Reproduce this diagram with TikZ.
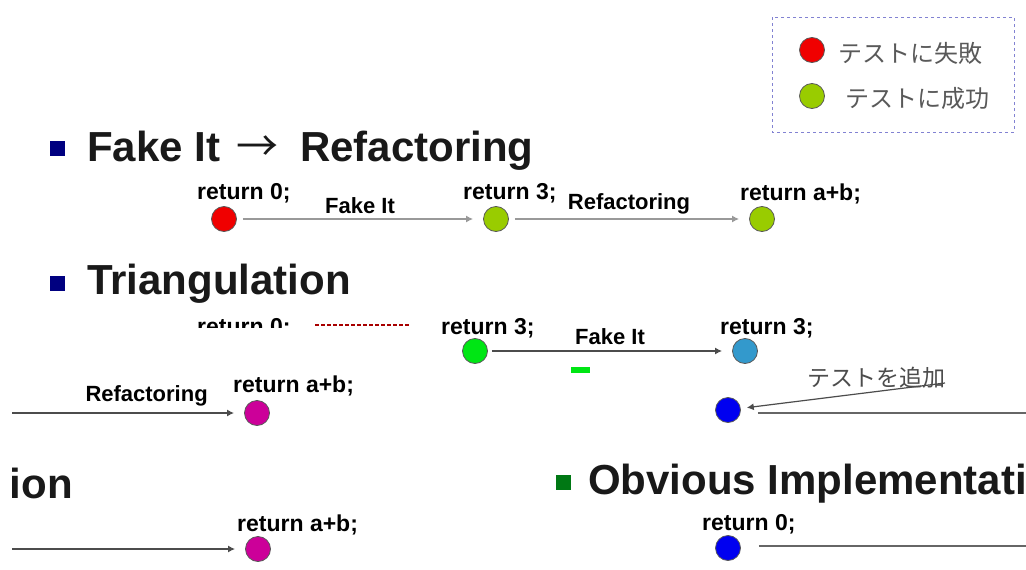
\documentclass[tikz,border=0pt]{standalone}
\usepackage{fontspec}
\setmainfont{Liberation Sans}
\newfontfamily\jpfont{Noto Sans CJK JP}
\usetikzlibrary{arrows.meta}

\definecolor{failred}{RGB}{240,0,0}
\definecolor{passgreen}{RGB}{153,204,0}
\definecolor{brightgreen}{RGB}{0,230,20}
\definecolor{tealblue}{RGB}{51,153,204}
\definecolor{deepblue}{RGB}{0,0,240}
\definecolor{plum}{RGB}{204,0,153}
\definecolor{navy}{RGB}{0,0,128}
\definecolor{leaf}{RGB}{0,120,20}
\definecolor{legendline}{RGB}{130,130,210}

\tikzset{
  dot/.style={circle, draw=black!65, line width=0.8pt, minimum size=25pt, inner sep=0pt},
  code/.style={font=\bfseries\fontsize{23}{23}\selectfont, inner sep=0pt, anchor=base west},
  heading/.style={font=\bfseries\fontsize{42}{42}\selectfont, text=black!90, inner sep=0pt, anchor=base west},
  bulletbox/.style={rectangle, minimum size=15pt, inner sep=0pt},
  flow/.style={draw=black!40, line width=2.5pt, shorten <=6pt, shorten >=10pt,
    -{Latex[length=7pt,width=7pt]}},
  darkflow/.style={draw=black!70, line width=2pt, shorten >=10pt,
    -{Latex[length=7pt,width=7pt]}},
  steplabel/.style={font=\bfseries\fontsize{22}{22}\selectfont, inner sep=1pt, above=3pt},
  legendtext/.style={font=\jpfont\fontsize{24}{24}\selectfont, text=black!65, anchor=west, inner sep=0pt},
}

\begin{document}
\begin{tikzpicture}[x=1pt, y=-1pt]
  \useasboundingbox[fill=white] (0,0) rectangle (1026,570);
  \begin{scope}
  \clip (12,0) rectangle (1026,570);

  % legend
  \draw[legendline, line width=1pt, dash pattern=on 3pt off 3pt] (772,17) rectangle (1014,132);
  \node[dot, fill=failred] (legfail) at (812,50) {};
  \node[dot, fill=passgreen] (legpass) at (812,96) {};
  \node[legendtext] at (838,53) {テストに失敗};
  \node[legendtext] at (845,98) {テストに成功};

  % Fake It -> Refactoring
  \node[bulletbox, fill=navy] (bulA) at (57,148) {};
  \node[heading] (headA) at (87,161) {Fake It\hspace{16pt}{\jpfont\mdseries →}\hspace{22pt}Refactoring};
  \node[dot, fill=failred] (fakeZero) at (224,219) {};
  \node[dot, fill=passgreen] (fakeThree) at (496,219) {};
  \node[dot, fill=passgreen] (fakeSum) at (762,219) {};
  \node[code] at (197,199) {return 0;};
  \node[code] at (463,199) {return 3;};
  \node[code] at (740,200) {return a+b;};
  \draw[flow] (fakeZero) -- (fakeThree) node[steplabel, midway] {Fake It};
  \draw[flow] (fakeThree) -- (fakeSum) node[steplabel, midway] {Refactoring};

  % Triangulation
  \node[bulletbox, fill=navy] (bulB) at (57,283) {};
  \node[heading] (headB) at (87,294) {Triangulation};
  \begin{scope}
    \clip (180,315) rectangle (300,327);
    \node[code] at (197,334) {return 0;};
  \end{scope}
  \draw[failred!70!black, line width=1.5pt, dash pattern=on 4pt off 2pt] (315,325) -- (410,325);
  \node[dot, fill=brightgreen] (triThree) at (475,351) {};
  \node[dot, fill=tealblue] (triThreeB) at (745,351) {};
  \node[code] at (441,334) {return 3;};
  \node[code] at (720,334) {return 3;};
  \draw[darkflow, shorten <=4pt] (triThree) -- (triThreeB) node[steplabel, midway, above=1pt] {Fake It};
  \fill[brightgreen] (571,367) rectangle (590,373);
  \node[dot, fill=deepblue] (triZeroB) at (728,410) {};
  \node[font=\jpfont\fontsize{23}{23}\selectfont, text=black!70, inner sep=0pt] (addTest) at (876,378) {テストを追加};
  \coordinate (addFrom) at (945,383);
  \draw[darkflow, line width=1.2pt, shorten >=6pt] (addFrom) -- (triZeroB);
  \coordinate (triOut) at (1026,413);
  \draw[black!60, line width=2.5pt] ([xshift=17pt, yshift=-3pt]triZeroB.east) -- (triOut);

  \coordinate (triIn) at (12,413);
  \node[dot, fill=plum] (triSum) at (257,413) {};
  \node[code] at (233,392) {return a+b;};
  \draw[darkflow] (triIn) -- (triSum) node[steplabel, pos=0.58, above=2pt] {Refactoring};

  % tail of the triangulation heading
  \node[heading] (headC) at (-191,498) {Triangulation};
  \coordinate (lastIn) at (12,549);
  \node[dot, fill=plum] (lastSum) at (258,549) {};
  \node[code] at (237,531) {return a+b;};
  \draw[darkflow] (lastIn) -- (lastSum);

  % Obvious Implementation
  \node[bulletbox, fill=leaf] (bulD) at (563,482) {};
  \node[heading] (headD) at (588,494) {Obvious Implementation};
  \node[dot, fill=deepblue] (obvZero) at (728,548) {};
  \node[code] at (702,530) {return 0;};
  \coordinate (obvOut) at (1026,546);
  \draw[black!60, line width=2pt] ([xshift=18pt, yshift=2pt]obvZero.east) -- (obvOut);
  \end{scope}
\end{tikzpicture}
\end{document}
